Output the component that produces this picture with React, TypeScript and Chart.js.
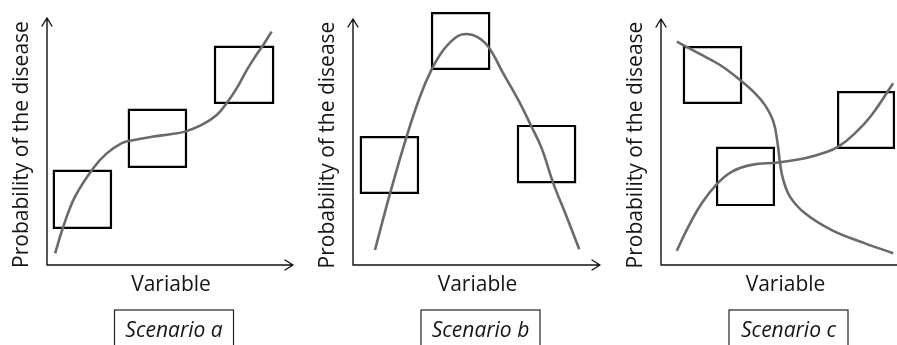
import React, { useEffect, useRef } from "react";
import { Chart, registerables } from "chart.js";

Chart.register(...registerables);

// ---- text ----
const Y_TITLE = "Probability of the disease";
const X_TITLE = "Variable";
const SCENARIO_LABELS = ["Scenario a", "Scenario b", "Scenario c"];

// ---- Scenario a (data units 0..100) ----
const curveA_x = [3.3, 6.6, 11.4, 18.8, 24.3, 30.4, 33.7, 42.6, 50.7, 56.1, 62.9, 69.0, 73.0, 77.1, 81.2, 84.6, 87.9, 91.3];
const curveA_y = [4.7, 15.5, 27.7, 39.2, 45.2, 49.3, 50.3, 51.9, 53.0, 54.0, 56.7, 60.7, 65.5, 71.5, 78.9, 84.3, 89.1, 94.5];
// boxes: [xMin, xMax, yMin, yMax]
const boxesA = [
  [2.8, 26.0, 15.0, 38.1],
  [33.3, 56.5, 39.7, 62.8],
  [68.3, 91.9, 65.6, 88.3],
];

// ---- Scenario b ----
const curveB_x = [8.9, 15.0, 21.7, 27.1, 31.9, 36.6, 42.0, 46.0, 50.1, 54.8, 60.8, 66.9, 72.3, 76.4, 81.1, 86.5, 91.6];
const curveB_y = [6.1, 29.1, 52.2, 68.4, 79.6, 87.4, 92.8, 93.9, 92.8, 88.7, 77.9, 67.1, 56.2, 47.4, 33.2, 19.6, 6.4];
const boxesB = [
  [3.2, 26.3, 29.3, 52.0],
  [32.0, 55.1, 79.7, 102.4],
  [66.8, 89.9, 33.7, 56.5],
];

// ---- Scenario c ----
const curveC1_x = [6.4, 15.1, 23.9, 32.0, 38.1, 42.1, 45.5, 47.2, 48.2, 49.5, 52.2, 58.3, 69.1, 82.6, 94.0];
const curveC1_y = [90.8, 86.1, 81.3, 75.2, 69.8, 65.0, 58.3, 49.5, 41.3, 34.6, 27.8, 21.0, 14.2, 8.8, 4.8];
const curveC2_x = [6.4, 11.1, 16.5, 22.6, 28.6, 36.7, 47.5, 58.3, 66.4, 71.8, 78.5, 85.3, 94.0];
const curveC2_y = [5.8, 15.6, 25.1, 32.9, 37.9, 40.7, 41.7, 43.4, 45.7, 48.1, 53.5, 61.0, 73.9];
const boxesC = [
  [9.3, 32.4, 65.9, 88.6],
  [22.7, 45.7, 24.4, 47.6],
  [71.7, 94.3, 47.6, 70.3],
];

const FONT = "'Open Sans', 'DejaVu Sans', sans-serif";

function curveDataset(xs: number[], ys: number[]) {
  return {
    type: "line" as const,
    data: xs.map((x, i) => ({ x, y: ys[i] })),
    borderColor: "#6a6a6a",
    borderWidth: 2.6,
    pointRadius: 0,
    tension: 0.4,
    fill: false,
    clip: false as any,
    order: 1,
  };
}

function boxDataset(b: number[]) {
  const [x0, x1, y0, y1] = b;
  return {
    type: "line" as const,
    data: [
      { x: x0, y: y0 },
      { x: x1, y: y0 },
      { x: x1, y: y1 },
      { x: x0, y: y1 },
      { x: x0, y: y0 },
      { x: x1, y: y0 },
    ],
    borderColor: "#000000",
    borderWidth: 2.2,
    borderJoinStyle: "miter" as const,
    pointRadius: 0,
    tension: 0,
    fill: false,
    clip: false as any,
    order: 2,
  };
}

const decorPlugin = {
  id: "decor",
  beforeDatasetsDraw(chart: any) {
    const { ctx, chartArea } = chart;
    const { left, right, top, bottom } = chartArea;
    ctx.save();
    ctx.strokeStyle = "#111";
    ctx.lineWidth = 1.4;
    ctx.lineCap = "round";
    ctx.lineJoin = "round";
    ctx.beginPath();
    ctx.moveTo(left, bottom);
    ctx.lineTo(left, top);
    ctx.moveTo(left, bottom);
    ctx.lineTo(right, bottom);
    // arrow heads
    ctx.moveTo(left - 5, top + 8);
    ctx.lineTo(left, top);
    ctx.lineTo(left + 5, top + 8);
    ctx.moveTo(right - 8, bottom - 5);
    ctx.lineTo(right, bottom);
    ctx.lineTo(right - 8, bottom + 5);
    ctx.stroke();
    ctx.restore();
  },
  afterDraw(chart: any) {
    const { ctx, chartArea } = chart;
    const { left, right, top, bottom } = chartArea;
    const opts = chart.options.plugins.decor || {};
    const cx = (left + right) / 2;
    ctx.save();
    ctx.fillStyle = "#151515";
    ctx.textAlign = "center";
    ctx.textBaseline = "middle";
    // y title
    ctx.font = `21px ${FONT}`;
    ctx.save();
    ctx.translate(left - 25, (top + bottom) / 2 + 3);
    ctx.rotate(-Math.PI / 2);
    ctx.fillText(Y_TITLE, 0, 0);
    ctx.restore();
    // x title
    ctx.fillText(X_TITLE, cx + 1, bottom + 20);
    // scenario box
    const bw = 119;
    const bx = cx + 4 - bw / 2;
    ctx.strokeStyle = "#222";
    ctx.lineWidth = 1.2;
    ctx.strokeRect(bx, bottom + 45, bw, 40);
    ctx.font = `italic 21px ${FONT}`;
    ctx.fillText(opts.label || "", cx + 4, bottom + 66);
    ctx.restore();
  },
};

type PanelProps = {
  left: number;
  width: number;
  padding: { left: number; right: number; top: number; bottom: number };
  datasets: any[];
  label: string;
};

function Panel({ left, width, padding, datasets, label }: PanelProps) {
  const ref = useRef<HTMLCanvasElement | null>(null);
  useEffect(() => {
    if (!ref.current) return;
    const chart = new Chart(ref.current, {
      type: "line",
      data: { datasets },
      options: {
        responsive: false,
        animation: false,
        devicePixelRatio: 1,
        layout: { padding },
        parsing: false as any,
        scales: {
          x: { type: "linear", min: 0, max: 100, display: false },
          y: { type: "linear", min: 0, max: 100, display: false },
        },
        plugins: {
          legend: { display: false },
          tooltip: { enabled: false },
          decor: { label },
        } as any,
      },
      plugins: [decorPlugin],
    });
    return () => chart.destroy();
  }, []);
  return (
    <canvas
      ref={ref}
      width={width}
      height={345}
      style={{ position: "absolute", left, top: 0, width, height: 345 }}
    />
  );
}

export default function App() {
  const dsA = [curveDataset(curveA_x, curveA_y), ...boxesA.map(boxDataset)];
  const dsB = [curveDataset(curveB_x, curveB_y), ...boxesB.map(boxDataset)];
  const dsC = [
    curveDataset(curveC1_x, curveC1_y),
    curveDataset(curveC2_x, curveC2_y),
    ...boxesC.map(boxDataset),
  ];
  return (
    <div
      style={{
        position: "fixed",
        left: 0,
        top: 0,
        width: 897,
        height: 345,
        overflow: "hidden",
        background: "#ffffff",
      }}
    >
      <Panel
        left={0}
        width={300}
        padding={{ left: 47, right: 7, top: 18, bottom: 80 }}
        datasets={dsA}
        label={SCENARIO_LABELS[0]}
      />
      <Panel
        left={300}
        width={302}
        padding={{ left: 53, right: 2, top: 19, bottom: 80 }}
        datasets={dsB}
        label={SCENARIO_LABELS[1]}
      />
      <Panel
        left={597}
        width={315}
        padding={{ left: 64, right: 4, top: 19, bottom: 80 }}
        datasets={dsC}
        label={SCENARIO_LABELS[2]}
      />
    </div>
  );
}
